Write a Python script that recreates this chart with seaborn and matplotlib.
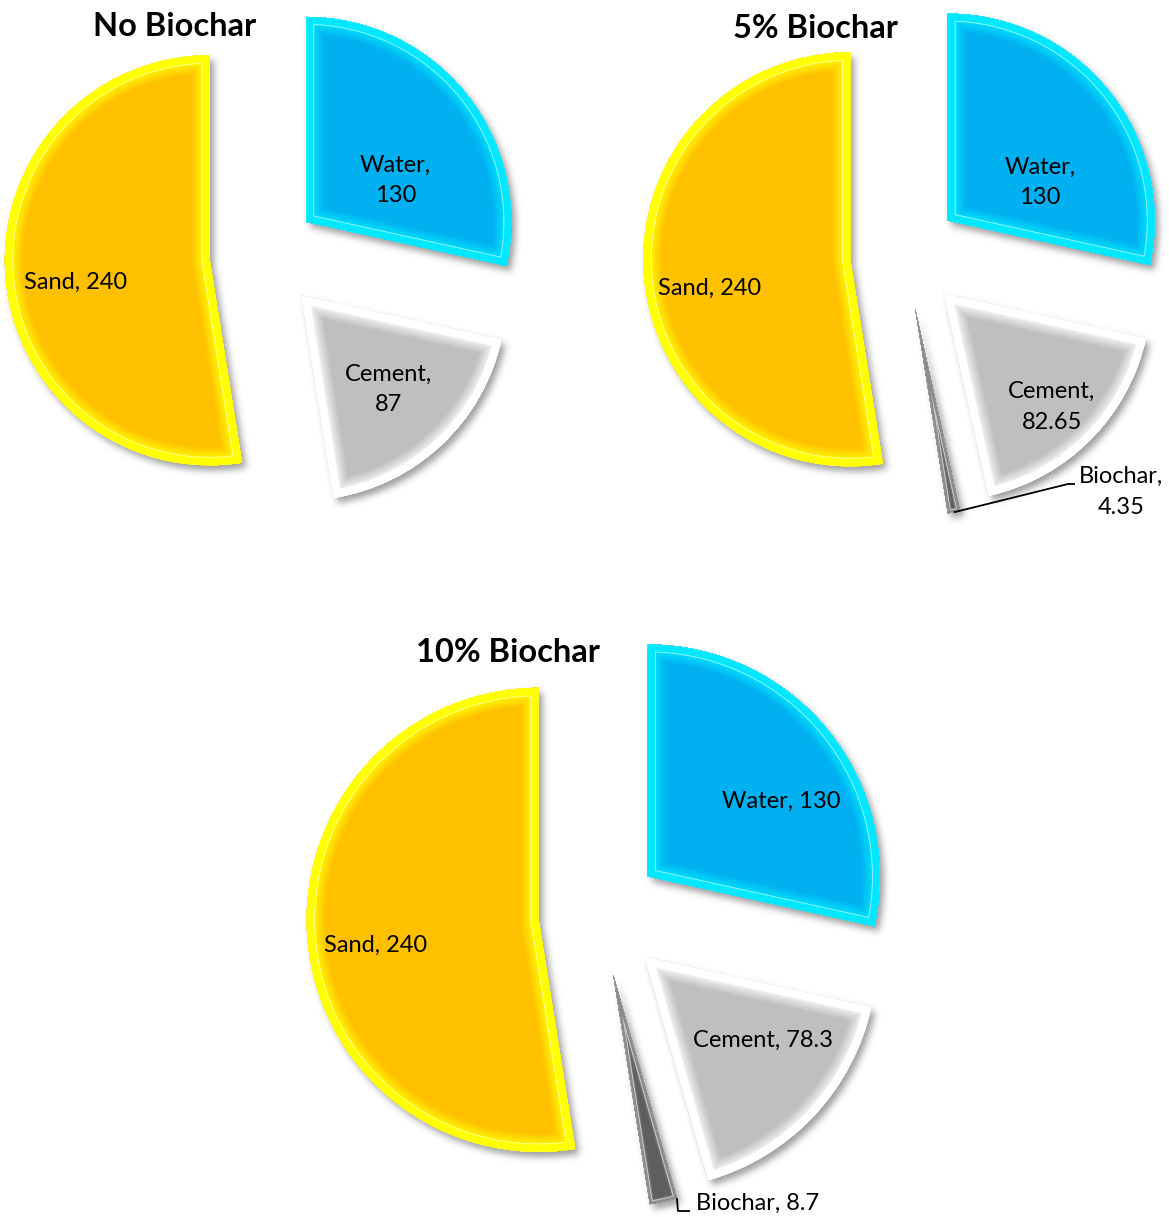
import numpy as np
import matplotlib
matplotlib.use("Agg")
import matplotlib.pyplot as plt
import matplotlib.colors as mcolors
from matplotlib.patches import Wedge
import seaborn as sns

# Mortar mix proportions for each biochar replacement level
mix_titles = ["No Biochar", "5% Biochar", "10% Biochar"]
components = ["Water", "Cement", "Biochar", "Sand"]
water = [130, 130, 130]
cement = [87, 82.65, 78.3]
biochar = [0, 4.35, 8.7]
sand = [240, 240, 240]

fill_colors = ["#00B0F0", "#BFBFBF", "#5E5E5E", "#FFC000"]
glow_colors = ["#00E8FF", "#FFFFFF", "#8C8C8C", "#FFFF00"]
band_widths = [7.0, 7.0, 2.5, 7.5]
bevel_depths = [11.0, 11.0, 3.0, 11.0]

sns.set_theme(style="white")
plt.rcParams["font.family"] = ["Lato", "DejaVu Sans"]

W, H = 1169, 1217
fig = plt.figure(figsize=(W / 100, H / 100), dpi=100)
ax = fig.add_axes([0, 0, 1, 1])

EXPLODE = 0.265  # slice offset as a fraction of the pie radius


def pt(pixels):
    return pixels * 72.0 / fig.dpi


def blend(c1, c2, t):
    a = np.array(mcolors.to_rgb(c1))
    b = np.array(mcolors.to_rgb(c2))
    return tuple(a + (b - a) * t)


class SoftShadow:
    """agg filter turning a patch into a blurred, offset drop shadow."""

    def __init__(self, sigma=3.5, dx=4, dy=5, alpha=0.5, gray=0.25):
        self.sigma, self.dx, self.dy = sigma, dx, dy
        self.alpha, self.gray = alpha, gray

    def _blur(self, a):
        r = int(3 * self.sigma)
        x = np.arange(-r, r + 1)
        k = np.exp(-0.5 * (x / self.sigma) ** 2)
        k /= k.sum()
        p = np.pad(a, r)
        h, w = a.shape
        tmp = sum(k[i] * p[:, i:i + w] for i in range(2 * r + 1))
        return sum(k[i] * tmp[i:i + h, :] for i in range(2 * r + 1))

    def __call__(self, im, dpi):
        pad = int(3 * self.sigma) + max(abs(self.dx), abs(self.dy)) + 2
        a = np.pad(im[..., 3], pad)
        a = self._blur(a)
        a = np.roll(a, self.dx, axis=1)
        a = np.roll(a, self.dy, axis=0)
        out = np.zeros(a.shape + (4,))
        out[..., :3] = self.gray
        out[..., 3] = np.clip(a * self.alpha, 0, 1)
        return out, -pad, -pad


def clipped_ring(w, depth_px, color, z):
    ring = Wedge(w.center, w.r, w.theta1, w.theta2, facecolor="none",
                 edgecolor=color, linewidth=pt(2 * depth_px),
                 joinstyle="miter", zorder=z)
    ax.add_patch(ring)
    ring.set_clip_path(w)


def bevel(w, fill, glow, band, depth, steps=14):
    shadow = Wedge(w.center, w.r, w.theta1, w.theta2, facecolor="black",
                   edgecolor="none", zorder=1)
    shadow.set_agg_filter(SoftShadow())
    ax.add_patch(shadow)
    for i, d in enumerate(np.linspace(band + depth, band, steps)):
        t = 0.85 * (i + 1) / steps
        clipped_ring(w, d, blend(fill, glow, t), 3)
    clipped_ring(w, band + 0.9, blend(glow, "white", 0.6), 3)
    clipped_ring(w, band, glow, 3)


# Panel layout in pixels from the top-left corner of the figure
panels = [
    {"center": (264, 256), "radius": 205, "title": (175, 26),
     "labels": {"Water": (30.0, 0.74, True), "Cement": (-47.0, 0.89, True),
                "Sand": (188.0, 0.93, False)}},
    {"center": (905, 255), "radius": 207, "title": (815, 28),
     "labels": {"Water": (28.4, 0.74, True), "Cement": (-46.0, 1.02, True),
                "Sand": (189.8, 0.96, False)},
     "leader": {"arc_frac": 0.5, "path": [(1068, 484), (1075, 484)],
                "text": (1121, 492), "ha": "center", "wrap": True}},
    {"center": (600, 915), "radius": 232, "title": (508, 653),
     "labels": {"Water": (32.1, 0.92, False), "Cement": (-37.5, 0.885, False),
                "Sand": (187.6, 0.974, False)},
     "leader": {"arc_frac": 1.0, "path": [(678, 1211), (690, 1211)],
                "text": (696, 1203), "ha": "left", "wrap": False}},
]

label_font = dict(fontsize=17, color="black", zorder=6, linespacing=1.55)


def label_text(name, value, wrap):
    return f"{name},{chr(10) if wrap else ' '}{value:g}"


for k, panel in enumerate(panels):
    amounts = [water[k], cement[k], biochar[k], sand[k]]
    idx = [i for i, v in enumerate(amounts) if v > 0]
    values = [amounts[i] for i in idx]
    names = [components[i] for i in idx]
    cx, cy = panel["center"]
    r = panel["radius"]

    wedges, _ = ax.pie(values, colors=[fill_colors[i] for i in idx],
                       startangle=90, counterclock=False,
                       explode=[EXPLODE * r] * len(values), radius=r,
                       center=(cx, H - cy), frame=True,
                       wedgeprops=dict(linewidth=0, edgecolor="none", zorder=2))

    for w, i in zip(wedges, idx):
        bevel(w, fill_colors[i], glow_colors[i], band_widths[i], bevel_depths[i])

    ax.text(panel["title"][0], H - panel["title"][1], mix_titles[k],
            ha="center", va="center", fontsize=23.5, fontweight="bold",
            color="black", zorder=6)

    for name, v in zip(names, values):
        if name in panel["labels"]:
            ang, frac, wrap = panel["labels"][name]
            a = np.radians(ang)
            x = cx + frac * r * np.cos(a)
            y = cy - frac * r * np.sin(a)
            ax.text(x, H - y, label_text(name, v, wrap), ha="center",
                    va="center", multialignment="center", **label_font)

    if "leader" in panel:
        ld = panel["leader"]
        w = wedges[names.index("Biochar")]
        a = np.radians(w.theta1 + ld["arc_frac"] * (w.theta2 - w.theta1))
        sx = w.center[0] + w.r * np.cos(a)
        sy = w.center[1] + w.r * np.sin(a)
        xs = [sx] + [p[0] for p in ld["path"]]
        ys = [sy] + [H - p[1] for p in ld["path"]]
        ax.plot(xs, ys, color="black", linewidth=1.3, zorder=5,
                solid_capstyle="butt")
        v = values[names.index("Biochar")]
        ax.text(ld["text"][0], H - ld["text"][1],
                label_text("Biochar", v, ld["wrap"]), ha=ld["ha"],
                va="center", multialignment="center", **label_font)

ax.set_xlim(0, W)
ax.set_ylim(0, H)
ax.set_aspect("equal")
ax.axis("off")

fig.savefig("out.png", dpi=100, facecolor="white")
